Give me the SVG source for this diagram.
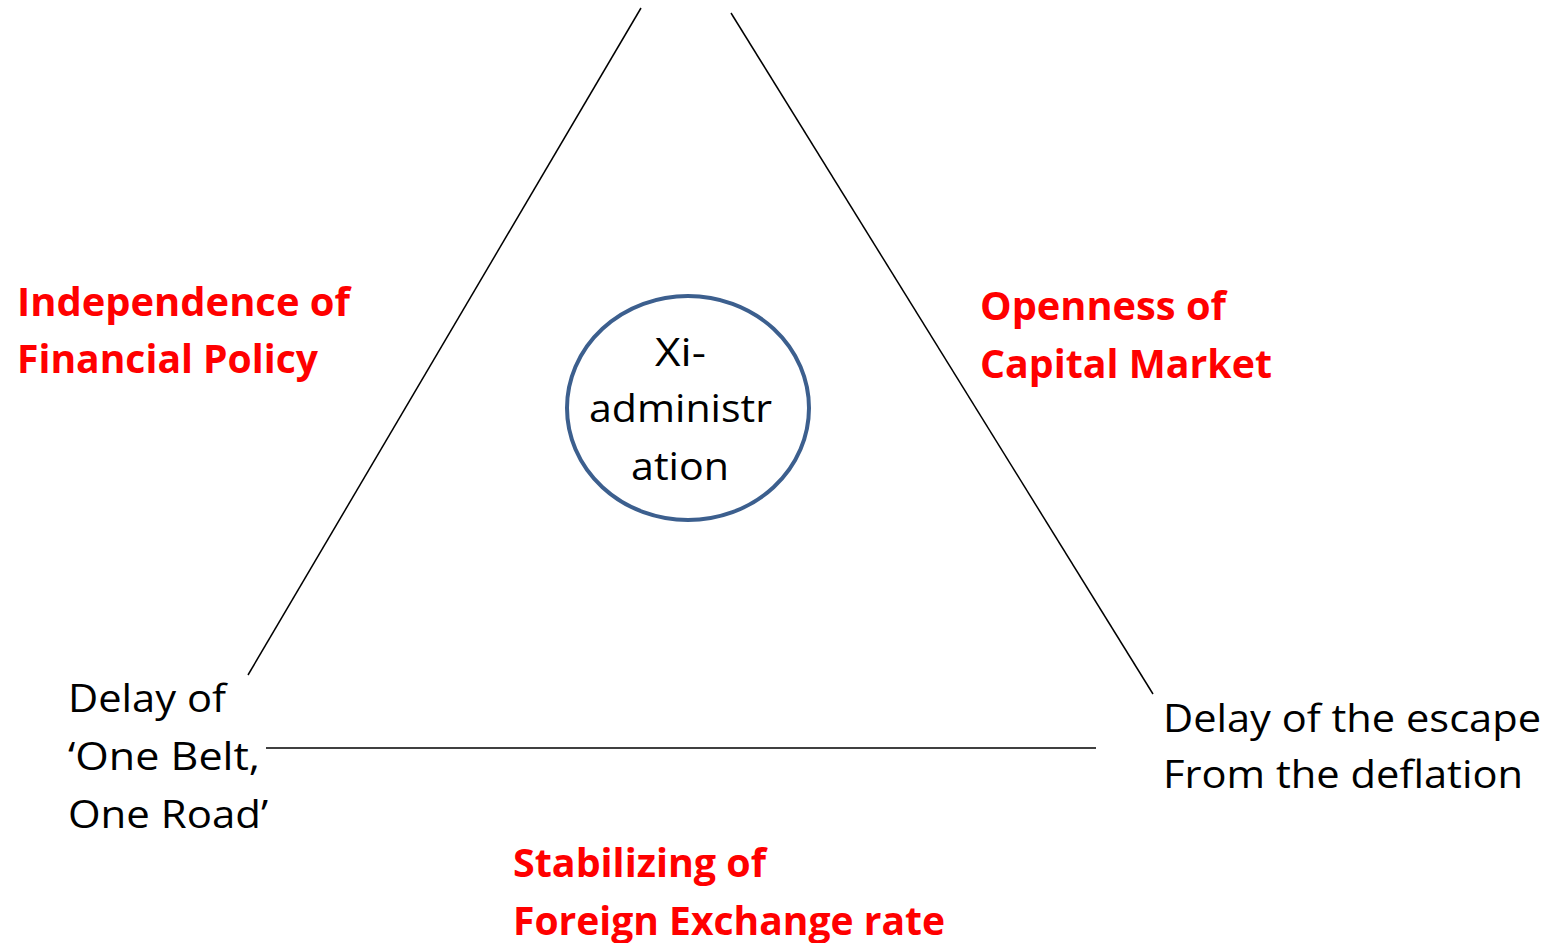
<svg xmlns="http://www.w3.org/2000/svg" width="1550" height="943" viewBox="0 0 1550 943">
<style>
.t{font-family:"Open Sans","Liberation Sans",sans-serif;font-size:39px;fill:#000}
.r{font-family:"Open Sans","Liberation Sans",sans-serif;font-size:39px;font-weight:bold;fill:#ff0000}
.ln{stroke:#000;stroke-width:1.5;fill:none}
</style>
<rect width="1550" height="943" fill="#fff"/>
<g id="connectors">
<line class="ln" x1="641" y1="8" x2="248" y2="675"/>
<line class="ln" x1="731" y1="13" x2="1153" y2="694"/>
<line class="ln" x1="266" y1="748" x2="1096" y2="748"/>
</g>
<g id="center">
<ellipse cx="688" cy="408" rx="121" ry="112" fill="#fff" stroke="#3c5f8e" stroke-width="4"/>
<text class="t" x="655" y="366" textLength="51" lengthAdjust="spacingAndGlyphs">Xi-</text>
<text class="t" x="589" y="422" textLength="183" lengthAdjust="spacingAndGlyphs">administr</text>
<text class="t" x="631" y="480" textLength="98" lengthAdjust="spacingAndGlyphs">ation</text>
</g>
<g id="left-label">
<text class="r" x="17" y="316" textLength="333" lengthAdjust="spacingAndGlyphs">Independence of</text>
<text class="r" x="17" y="373" textLength="301" lengthAdjust="spacingAndGlyphs">Financial Policy</text>
</g>
<g id="right-label">
<text class="r" x="980" y="320" textLength="246" lengthAdjust="spacingAndGlyphs">Openness of</text>
<text class="r" x="980" y="378" textLength="292" lengthAdjust="spacingAndGlyphs">Capital Market</text>
</g>
<g id="bottom-label">
<text class="r" x="513" y="877" textLength="253" lengthAdjust="spacingAndGlyphs">Stabilizing of</text>
<text class="r" x="513" y="935" textLength="432" lengthAdjust="spacingAndGlyphs">Foreign Exchange rate</text>
</g>
<g id="left-vertex">
<text class="t" x="68" y="712" textLength="158" lengthAdjust="spacingAndGlyphs">Delay of</text>
<text class="t" x="68" y="770" textLength="192" lengthAdjust="spacingAndGlyphs">‘One Belt,</text>
<text class="t" x="68" y="828" textLength="200" lengthAdjust="spacingAndGlyphs">One Road’</text>
</g>
<g id="right-vertex">
<text class="t" x="1163" y="732" textLength="378" lengthAdjust="spacingAndGlyphs">Delay of the escape</text>
<text class="t" x="1163" y="788" textLength="360" lengthAdjust="spacingAndGlyphs">From the deflation</text>
</g>
</svg>
